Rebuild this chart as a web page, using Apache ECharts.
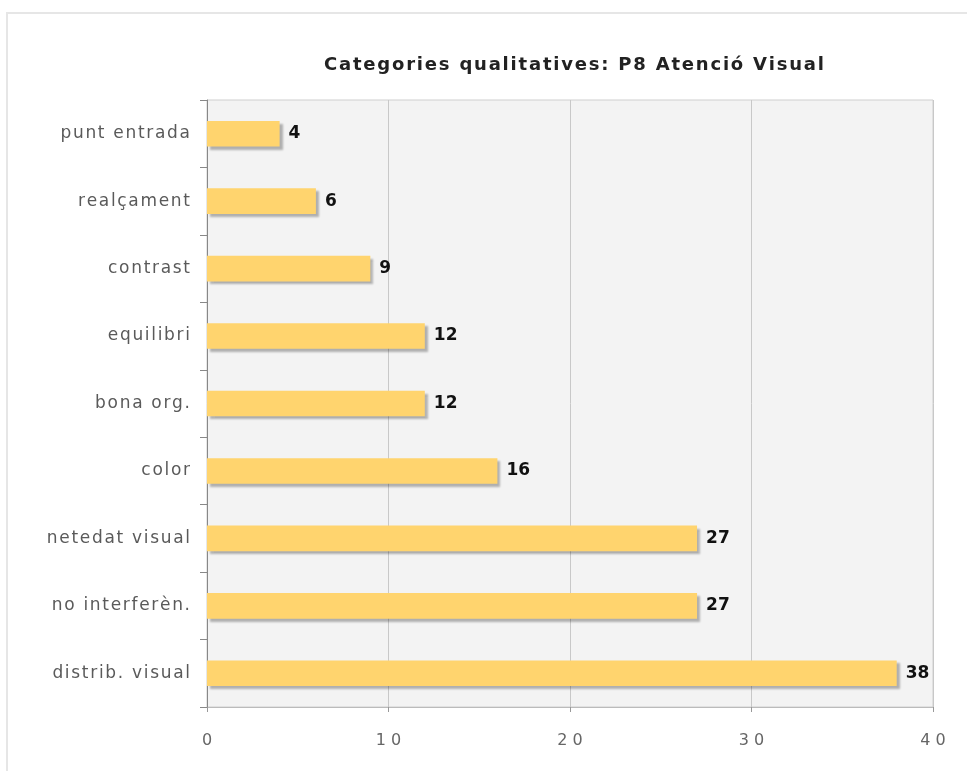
<!DOCTYPE html>
<html>
<head>
<meta charset="utf-8">
<script src="https://cdn.jsdelivr.net/npm/echarts@6/dist/echarts.min.js"></script>
<style>
  html, body { margin: 0; padding: 0; background: #fff; }
  #frame { position: absolute; left: 6px; top: 12px; width: 980px; height: 780px;
           border-left: 2px solid #e6e6e6; border-top: 2px solid #e6e6e6; }
  #chart { position: absolute; left: 0; top: 0; width: 967px; height: 771px; }
</style>
</head>
<body>
<div id="frame"></div>
<div id="chart"></div>
<script>
// categories, bottom to top
var categories = ['distrib. visual', 'no interferèn.', 'netedat visual', 'color', 'bona org.',
                  'equilibri', 'contrast', 'realçament', 'punt entrada'];
var counts = [38, 27, 27, 16, 12, 12, 9, 6, 4];
var xTicks = [0, 10, 20, 30, 40];
var chartTitle = 'Categories qualitatives: P8 Atenció Visual';

// spread letters a little, the original font is set loose
function spaced(s) {
    return String(s).split('').join('\u200a');
}

var chart = echarts.init(document.getElementById('chart'));
chart.setOption({
    animation: false,
    title: {
        text: spaced(chartTitle),
        left: 569, top: 51, textAlign: 'center',
        textStyle: { fontFamily: 'DejaVu Sans', fontSize: 18, fontWeight: 'bold', color: '#222' }
    },
    grid: { left: 207, right: 34, top: 100, bottom: 64, show: true,
            backgroundColor: '#f3f3f3', borderColor: '#cfcfcf', borderWidth: 1 },
    xAxis: {
        type: 'value', min: xTicks[0], max: xTicks[xTicks.length - 1], interval: 10,
        axisLine: { show: true, lineStyle: { color: '#bbb' } },
        axisTick: { show: true, length: 5, lineStyle: { color: '#999' } },
        splitLine: { lineStyle: { color: '#c8c8c8' } },
        axisLabel: { color: '#666', fontSize: 16, margin: 26, fontFamily: 'DejaVu Sans',
                     formatter: function (v) { return String(v).split('').join(' '); } }
    },
    yAxis: {
        type: 'category', data: categories,
        axisLine: { lineStyle: { color: '#888' } },
        axisTick: { show: true, length: 7, lineStyle: { color: '#888' } },
        axisLabel: { color: '#5a5a5a', fontSize: 17, margin: 17, fontFamily: 'DejaVu Sans',
                     formatter: spaced }
    },
    series: [{
        type: 'bar', data: counts, barWidth: '38%',
        itemStyle: { color: '#ffd46e', shadowColor: 'rgba(0,0,0,0.28)', shadowOffsetX: 3,
                     shadowOffsetY: 3, shadowBlur: 2 },
        label: { show: true, position: 'right', distance: 9, color: '#111',
                 fontFamily: 'DejaVu Sans', fontWeight: 'bold', fontSize: 17 }
    }]
});
</script>
</body>
</html>
